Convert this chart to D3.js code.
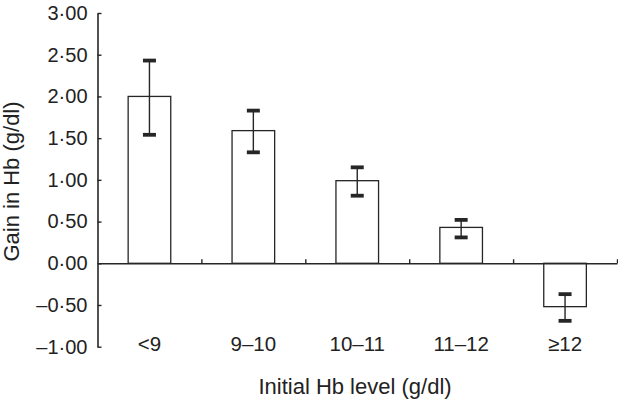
<!DOCTYPE html>
<html><head><meta charset="utf-8">
<script src="https://cdn.jsdelivr.net/npm/d3@7"></script>
<style>
html,body{margin:0;padding:0;background:#fff;}
svg text{font-family:"Liberation Sans",Arial,Helvetica,sans-serif;fill:#222;}
</style></head>
<body><svg id="c" width="618" height="402"></svg>
<script>
const categories = ["<9", "9–10", "10–11", "11–12", "≥12"];
const gains = [2.00, 1.59, 0.99, 0.43, -0.52];
const errUpper = [2.43, 1.83, 1.15, 0.52, -0.37];
const errLower = [1.54, 1.33, 0.81, 0.31, -0.69];
const yTicks = [-1, -0.5, 0, 0.5, 1, 1.5, 2, 2.5, 3];
const yTitle = "Gain in Hb (g/dl)";
const xTitle = "Initial Hb level (g/dl)";

const svg = d3.select("#c");
const ink = "#262626";
const x = d3.scaleBand().domain(categories).range([97.5, 617]).padding(0);
const y = d3.scaleLinear().domain([-1, 3]).range([346.7, 13]);

const fmt = v => {
  const s = Math.abs(v).toFixed(2).replace(".", "·");
  return (v < 0 ? "–" : "") + s;
};

// Y axis
const yAxis = svg.append("g").attr("transform", "translate(97.5,0)")
  .call(d3.axisLeft(y).tickValues(yTicks).tickFormat(fmt).tickSizeInner(-4).tickSizeOuter(0).tickPadding(10));
yAxis.select(".domain").attr("stroke", ink).attr("stroke-width", 1.6);
yAxis.selectAll(".tick line").attr("stroke", ink).attr("stroke-width", 1.4);
yAxis.selectAll(".tick text").attr("font-size", 20).attr("fill", ink)
  .style("font-family", "'Liberation Sans',Arial,sans-serif");

// Bars
const bw = x.bandwidth() * 0.41;
svg.append("g").selectAll("rect").data(categories).join("rect")
  .attr("x", (d) => x(d) + x.bandwidth() / 2 - bw / 2)
  .attr("y", (d, i) => Math.min(y(gains[i]), y(0)))
  .attr("width", bw)
  .attr("height", (d, i) => Math.abs(y(gains[i]) - y(0)))
  .attr("fill", "#fff").attr("stroke", ink).attr("stroke-width", 1.3);

// Zero line with category boundary ticks
const bounds = categories.map(c => x(c)).concat([x.range()[1]]);
const xLin = d3.scaleLinear().domain(x.range()).range(x.range());
const xAxis = svg.append("g").attr("transform", `translate(0,${y(0)})`)
  .call(d3.axisBottom(xLin).tickValues(bounds.slice(1)).tickSizeInner(-4).tickSizeOuter(0).tickFormat(""));
xAxis.select(".domain").attr("stroke", ink).attr("stroke-width", 1.6);
xAxis.selectAll(".tick line").attr("stroke", ink).attr("stroke-width", 1.4);

// Error bars
const eb = svg.append("g");
const capW = 13;
categories.forEach((c, i) => {
  const cx = x(c) + x.bandwidth() / 2;
  eb.append("line").attr("x1", cx).attr("x2", cx)
    .attr("y1", y(errUpper[i])).attr("y2", y(errLower[i]))
    .attr("stroke", ink).attr("stroke-width", 1.4);
  [errUpper[i], errLower[i]].forEach(v => {
    eb.append("line").attr("x1", cx - capW / 2).attr("x2", cx + capW / 2)
      .attr("y1", y(v)).attr("y2", y(v))
      .attr("stroke", ink).attr("stroke-width", 3.8);
  });
});

// Category labels
svg.append("g").selectAll("text").data(categories).join("text")
  .attr("x", d => x(d) + x.bandwidth() / 2)
  .attr("y", 351)
  .attr("text-anchor", "middle")
  .attr("font-size", 20.5)
  .text(d => d);

// Titles
svg.append("text").attr("x", 355).attr("y", 394).attr("text-anchor", "middle")
  .attr("font-size", 22).text(xTitle);
svg.append("text").attr("transform", "translate(18.5,181.5) rotate(-90)")
  .attr("text-anchor", "middle").attr("font-size", 22).text(yTitle);
</script></body></html>
